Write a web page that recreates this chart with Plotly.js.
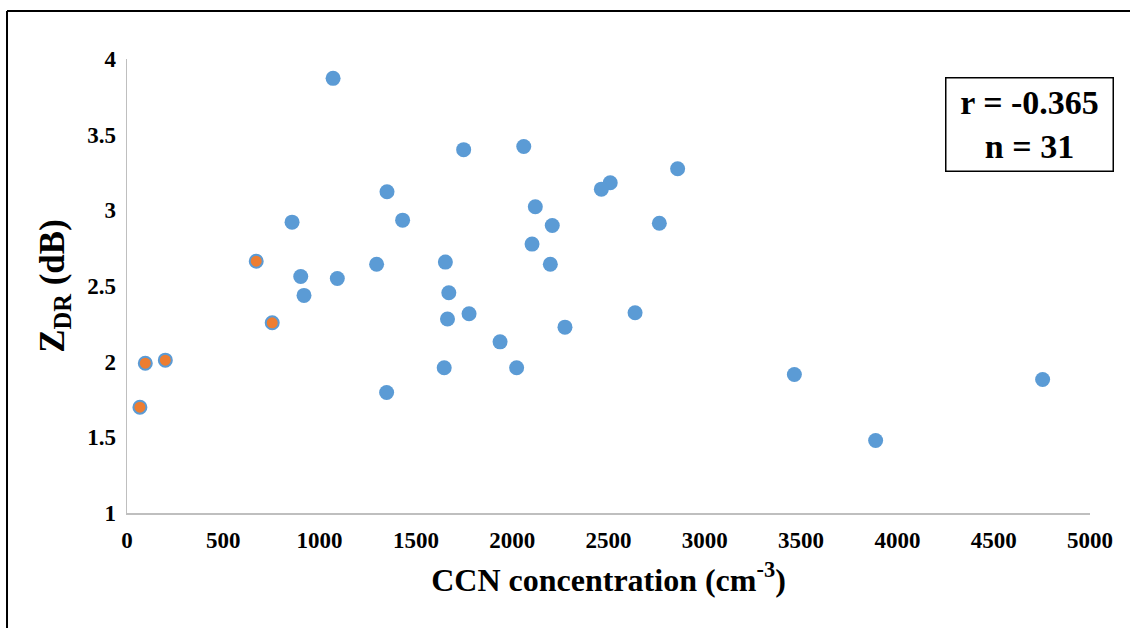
<!DOCTYPE html>
<html>
<head>
<meta charset="utf-8">
<script src="https://cdn.plot.ly/plotly-3.0.1.min.js"></script>
<style>
  html, body { margin: 0; padding: 0; background: #fff; }
  #chart { width: 1130px; height: 628px; }
</style>
</head>
<body>
<div id="chart"></div>
<script>
// Blue series: CCN concentration (cm^-3) vs ZDR (dB)
const ccnBlue = [1070, 1748, 2060, 2859, 2509, 2463, 1350, 2120, 1431, 857, 2764, 2208, 2103, 1296, 1653, 2198, 902, 1092, 1671, 919, 1776, 2638, 1664, 2274, 1937, 1647, 2023, 3465, 4754, 1348, 3887];
const zdrBlue = [3.872, 3.401, 3.422, 3.275, 3.182, 3.140, 3.123, 3.024, 2.935, 2.922, 2.915, 2.900, 2.777, 2.644, 2.658, 2.644, 2.563, 2.550, 2.455, 2.438, 2.317, 2.323, 2.282, 2.228, 2.131, 1.960, 1.960, 1.915, 1.882, 1.796, 1.479];
// Orange series (highlighted points)
const ccnOrange = [671, 754, 199, 95, 67];
const zdrOrange = [2.664, 2.257, 2.010, 1.990, 1.699];

const xTickVals = [0, 500, 1000, 1500, 2000, 2500, 3000, 3500, 4000, 4500, 5000];
const xTickText = ['0', '500', '1000', '1500', '2000', '2500', '3000', '3500', '4000', '4500', '5000'];
const yTickVals = [1, 1.5, 2, 2.5, 3, 3.5, 4];
const yTickText = ['1', '1.5', '2', '2.5', '3', '3.5', '4'];
const statText = 'r = -0.365<br>n = 31';

const blue = '#5B9BD5';
const orange = '#ED7D31';
const serif = 'Liberation Serif';

const traces = [
  {
    x: ccnBlue, y: zdrBlue, type: 'scatter', mode: 'markers',
    marker: { color: blue, size: 15, line: { width: 0 } },
    showlegend: false, cliponaxis: false
  },
  {
    x: ccnOrange, y: zdrOrange, type: 'scatter', mode: 'markers',
    marker: { color: orange, size: 13, line: { color: blue, width: 2 } },
    showlegend: false, cliponaxis: false
  }
];

const bold = s => '<b>' + s + '</b>';

const layout = {
  width: 1130, height: 628,
  margin: { l: 127, r: 40, t: 59, b: 114.5 },
  paper_bgcolor: '#ffffff', plot_bgcolor: '#ffffff',
  font: { family: serif, color: '#000', size: 23 },
  xaxis: {
    range: [0, 5000], tickvals: xTickVals, ticktext: xTickText.map(bold),
    showgrid: false, zeroline: false, showline: true, linecolor: '#BFBFBF', linewidth: 1.5,
    ticks: 'outside', ticklen: 6, tickcolor: 'rgba(0,0,0,0)',
    tickfont: { family: serif, size: 23, color: '#000' },
    title: { text: '<b>CCN concentration (cm<sup>-3</sup>)</b>', font: { family: serif, size: 32, color: '#000' }, standoff: 16 }
  },
  yaxis: {
    range: [1, 4], tickvals: yTickVals, ticktext: yTickText.map(bold),
    showgrid: false, zeroline: false, showline: true, linecolor: '#BFBFBF', linewidth: 1.5,
    ticks: 'outside', ticklen: 5, tickcolor: 'rgba(0,0,0,0)',
    tickfont: { family: serif, size: 23, color: '#000' },
    title: { text: '<b>Z<sub>DR</sub> (dB)</b>', font: { family: serif, size: 35, color: '#000' }, standoff: 12 }
  },
  annotations: [
    {
      xref: 'paper', yref: 'paper', x: 0.9367, y: 0.8559,
      xanchor: 'center', yanchor: 'middle',
      text: '<b>' + statText + '</b>', showarrow: false,
      font: { family: serif, size: 34, color: '#000' },
      align: 'center',
      bordercolor: '#000', borderwidth: 1.5, borderpad: 4,
      bgcolor: '#fff', width: 158, height: 84
    }
  ],
  shapes: [
    { type: 'line', xref: 'paper', yref: 'paper', x0: -0.1246, x1: 1.05, y0: 1.1056, y1: 1.1056, line: { color: '#000', width: 2 } },
    { type: 'line', xref: 'paper', yref: 'paper', x0: -0.1246, x1: -0.1246, y0: 1.1056, y1: -0.26, line: { color: '#000', width: 2 } }
  ]
};

Plotly.newPlot('chart', traces, layout, { displayModeBar: false, staticPlot: true });
</script>
</body>
</html>
